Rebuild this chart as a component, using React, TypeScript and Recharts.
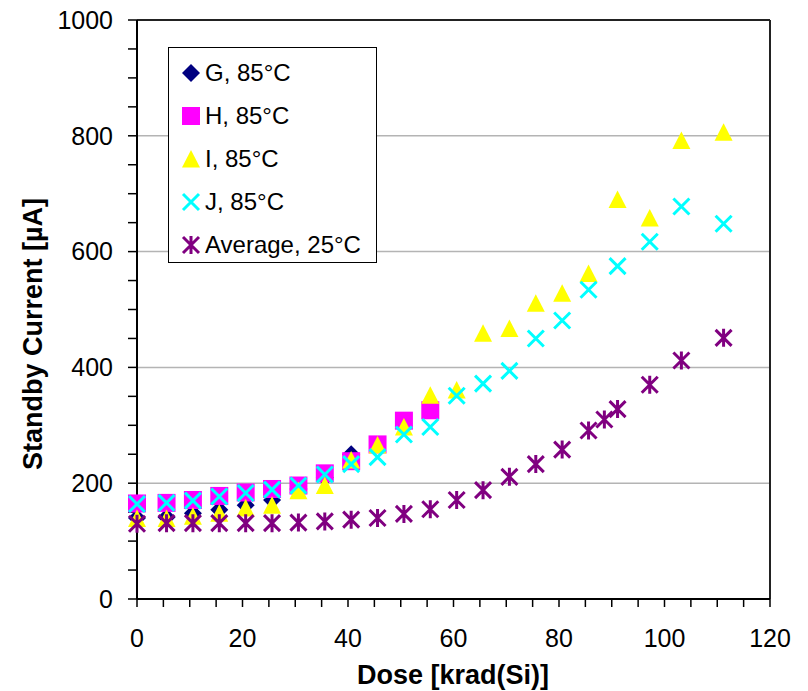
import React from 'react';
import {
  ScatterChart, Scatter, XAxis, YAxis, ReferenceLine, Legend, Label,
} from 'recharts';

const FONT = '"Liberation Sans", Arial, sans-serif';

// Dose steps (krad(Si)) for the 85°C parts; the 25°C average has one extra step at ~88.6
const doses = [0, 5.6, 10.6, 15.6, 20.6, 25.6, 30.6, 35.6, 40.6, 45.6, 50.6, 55.6, 60.6, 65.6, 70.6, 75.6, 80.6, 85.6, 91.1, 97.2, 103.2, 111.2];
const avgDoses = [0, 5.6, 10.6, 15.6, 20.6, 25.6, 30.6, 35.6, 40.6, 45.6, 50.6, 55.6, 60.6, 65.6, 70.6, 75.6, 80.6, 85.6, 88.6, 91.1, 97.2, 103.2, 111.2];

// Standby current in µA
const partG = [140, 141, 148, 154, 162, 171, 190, 210, 250];
const partH = [165, 166, 171, 178, 184, 190, 196, 217, 238, 267, 308, 326];
const partI = [139, 139, 143, 148, 157, 162, 187, 196, 240, 266, 297, 352, 361, 459, 467, 511, 528, 562, 690, 658, 792, 806];
const partJ = [164, 166, 170, 177, 183, 189, 196, 215, 233, 245, 284, 297, 351, 372, 394, 450, 481, 534, 575, 617, 678, 648];
const average25 = [130, 131, 131, 131, 131, 131, 132, 134, 137, 140, 147, 155, 171, 188, 211, 233, 258, 291, 310, 328, 370, 412, 451];

const xTicks = [0, 5, 10, 15, 20, 25, 30, 35, 40, 45, 50, 55, 60, 65, 70, 75, 80, 85, 90, 95, 100, 105, 110, 115, 120];
const yTicks = [0, 50, 100, 150, 200, 250, 300, 350, 400, 450, 500, 550, 600, 650, 700, 750, 800, 850, 900, 950, 1000];
const gridLines = [200, 400, 600, 800];

const zip = (xs: number[], ys: number[]) => ys.map((y, i) => ({ x: xs[i], y }));

type MarkerProps = { cx?: number; cy?: number };

const Diamond = ({ cx = 0, cy = 0 }: MarkerProps) => (
  <path d={`M${cx},${cy - 9}L${cx + 9},${cy}L${cx},${cy + 9}L${cx - 9},${cy}Z`} fill="#000080" />
);
const Square = ({ cx = 0, cy = 0 }: MarkerProps) => (
  <rect x={cx - 9} y={cy - 9} width={18} height={18} fill="#FF00FF" />
);
const Triangle = ({ cx = 0, cy = 0 }: MarkerProps) => (
  <path d={`M${cx},${cy - 9}L${cx + 9},${cy + 8.5}L${cx - 9},${cy + 8.5}Z`} fill="#FFFF00" />
);
const Cross = ({ cx = 0, cy = 0 }: MarkerProps) => (
  <path d={`M${cx - 8},${cy - 8}L${cx + 8},${cy + 8}M${cx + 8},${cy - 8}L${cx - 8},${cy + 8}`} stroke="#00FFFF" strokeWidth={3} />
);
const Star = ({ cx = 0, cy = 0 }: MarkerProps) => (
  <path
    d={`M${cx - 8},${cy - 8}L${cx + 8},${cy + 8}M${cx + 8},${cy - 8}L${cx - 8},${cy + 8}M${cx},${cy - 9}L${cx},${cy + 9}`}
    stroke="#800080" strokeWidth={3}
  />
);

const series = [
  { name: 'G, 85°C', data: zip(doses, partG), Marker: Diamond },
  { name: 'H, 85°C', data: zip(doses, partH), Marker: Square },
  { name: 'I, 85°C', data: zip(doses, partI), Marker: Triangle },
  { name: 'J, 85°C', data: zip(doses, partJ), Marker: Cross },
  { name: 'Average, 25°C', data: zip(avgDoses, average25), Marker: Star },
];

function LegendBox() {
  return (
    <div style={{
      border: '1px solid #000', background: '#fff', width: 207, height: 211,
      paddingTop: 3, fontFamily: FONT, fontSize: 24, color: '#000',
    }}>
      {series.map(({ name, Marker }) => (
        <div key={name} style={{ display: 'flex', alignItems: 'center', height: 43 }}>
          <svg width={22} height={22} style={{ marginLeft: 11, marginRight: 3 }}>
            <Marker cx={11} cy={11} />
          </svg>
          <span style={{ whiteSpace: 'nowrap' }}>{name}</span>
        </div>
      ))}
    </div>
  );
}

const tickStyle = { fill: '#000', fontSize: 25, fontFamily: FONT };

export default function App() {
  return (
    <div style={{ position: 'absolute', left: 0, top: 0, width: 808, height: 691, background: '#fff' }}>
      <ScatterChart width={808} height={691} margin={{ top: 20, right: 38, bottom: 32, left: 57 }}>
        {gridLines.map((v) => (
          <ReferenceLine key={v} y={v} stroke="#b4b4b4" strokeWidth={1.5} />
        ))}
        <ReferenceLine y={1000} stroke="#222" strokeWidth={2} />
        <ReferenceLine x={120} stroke="#222" strokeWidth={2} />
        <XAxis
          type="number" dataKey="x" domain={[0, 120]} ticks={xTicks} interval={0}
          tickFormatter={(v: number) => (v % 20 === 0 ? String(v) : '')}
          tick={tickStyle} tickSize={8} tickMargin={22} height={60}
          axisLine={{ stroke: '#000', strokeWidth: 2 }} tickLine={{ stroke: '#000', strokeWidth: 1.5 }}
        >
          <Label
            content={() => (
              <text x={453} y={675} textAnchor="middle" dominantBaseline="central"
                fontFamily={FONT} fontSize={27} fontWeight="bold" fill="#000">
                Dose [krad(Si)]
              </text>
            )}
          />
        </XAxis>
        <YAxis
          type="number" dataKey="y" domain={[0, 1000]} ticks={yTicks} interval={0}
          tickFormatter={(v: number) => (v % 200 === 0 ? String(v) : '')}
          tick={tickStyle} tickSize={9} tickMargin={15} width={80}
          axisLine={{ stroke: '#000', strokeWidth: 2 }} tickLine={{ stroke: '#000', strokeWidth: 1.5 }}
        >
          <Label
            content={() => (
              <text x={33} y={334} transform="rotate(-90, 33, 334)" textAnchor="middle" dominantBaseline="central"
                fontFamily={FONT} fontSize={27} fontWeight="bold" fill="#000">
                Standby Current [µA]
              </text>
            )}
          />
        </YAxis>
        {series.map(({ name, data, Marker }) => (
          <Scatter key={name} name={name} data={data} isAnimationActive={false}
            shape={(p: MarkerProps) => <Marker cx={p.cx} cy={p.cy} />} />
        ))}
        <Legend
          layout="vertical" align="center" verticalAlign="middle"
          wrapperStyle={{ left: 168, top: 47, width: 'auto', height: 'auto' }}
          content={() => <LegendBox />}
        />
      </ScatterChart>
    </div>
  );
}
